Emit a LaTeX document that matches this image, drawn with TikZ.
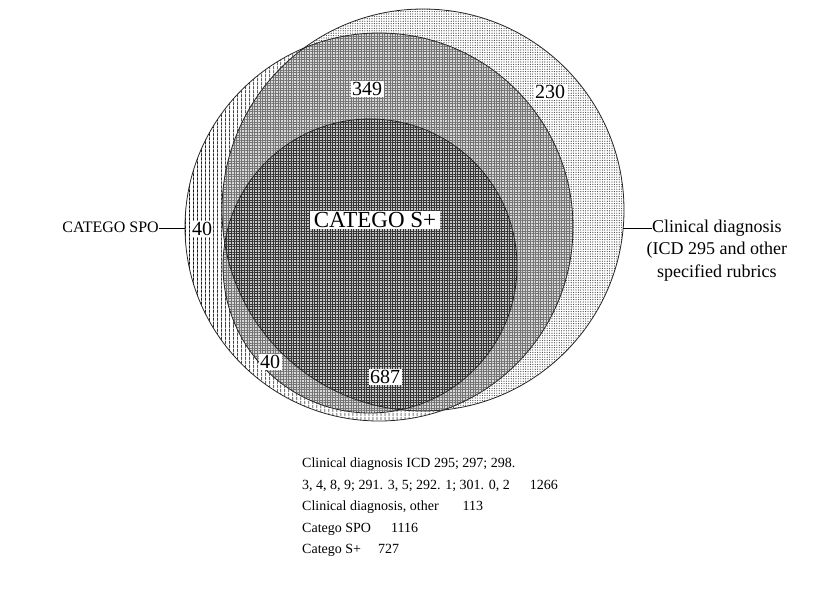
\documentclass[tikz,border=0pt]{standalone}
\usepackage{fontspec}
\setmainfont{Liberation Serif}
\usetikzlibrary{positioning,patterns.meta}
\tikzset{
  numbox/.style={fill=white, inner sep=1.5pt, font=\fontsize{20}{20}\selectfont},
  lbltext/.style={inner sep=0pt, text height=12pt, text depth=3.5pt, font=\fontsize{18}{21.5}\selectfont},
  edgeline/.style={line width=0.8pt, black!85},
  midgrid/.style={pattern={Hatch[angle=0,distance=2.6pt,line width=0.7pt]}, pattern color=black!55},
  darkgrid/.style={pattern={Hatch[angle=0,distance=2.6pt,line width=0.9pt]}, pattern color=black!80}
}
\begin{document}
\begin{tikzpicture}[x=1pt,y=-1pt]
    \useasboundingbox (0,0) rectangle (825,590);
    % Catego SPO (riscas verticais)
    \fill[white] (379,227) circle[radius=194pt];
    \fill[pattern={Lines[angle=90,distance=4pt,line width=0.9pt]}, pattern color=black] (379,227) circle[radius=194pt];
    % Diagnostico clinico (pontos)
    \fill[white] (423,210) circle[radius=201pt];
    \fill[pattern={Dots[radius=0.6pt,distance=2.4pt]}, pattern color=black!75] (423,210) circle[radius=201pt];
    % SPO e clinico
    \begin{scope}
        \clip (423,210) circle[radius=201pt];
        \fill[gray!30] (379,227) circle[radius=194pt];
        \fill[midgrid] (379,227) circle[radius=194pt];
    \end{scope}
    % Catego S+
    \fill[gray!30] (370,266) circle[radius=147pt];
    \fill[midgrid] (370,266) circle[radius=147pt];
    \begin{scope}
        \clip (370,266) circle[radius=147pt];
        \fill[gray!45] (423,210) circle[radius=201pt];
        \fill[darkgrid] (423,210) circle[radius=201pt];
    \end{scope}
    % Contornos
    \draw[edgeline] (379,227) circle[radius=194pt];
    \draw[edgeline] (423,210) circle[radius=201pt];
    \draw[edgeline] (370,266) circle[radius=147pt];
    % Numeros
    \node[numbox] (n230) at (550,92) {230};
    \node[numbox] (n349) at (367,89) {349};
    \node[numbox, font=\fontsize{23}{23}\selectfont, inner xsep=4pt] (splus) at (375,220) {CATEGO S+};
    \node[numbox, inner xsep=1pt] (spoonly) at (202,229) {40};
    \node[numbox] (splusonly) at (270,362) {40};
    \node[numbox] (n687) at (385,377) {687};
    % Legenda SPO
    \coordinate (spoedge) at (185,228);
    \node[lbltext, font=\fontsize{16}{19}\selectfont, anchor=east] (spo) at (159,228) {CATEGO SPO};
    \draw (spo) -- (spoedge);
    % Legenda clinico
    \coordinate (clinedge) at (623,228);
    \node[lbltext, anchor=west] (clin1) at (652,228) {Clinical diagnosis};
    \node[lbltext, below=6.5pt of clin1] (clin2) {(ICD 295 and other};
    \node[lbltext, below=6.5pt of clin2] (clin3) {specified rubrics};
    \draw (clinedge) -- (clin1);
    % Totais
    \node[lbltext, text height=, text depth=, font=\fontsize{14}{21.5}\selectfont, align=left, anchor=north west] (totals) at (302,458) {%
        Clinical diagnosis ICD 295; 297; 298.\\
        3, 4, 8, 9; 291. 3, 5; 292. 1; 301. 0, 2\hspace{20pt}1266\\
        Clinical diagnosis, other\hspace{24pt}113\\
        Catego SPO\hspace{20pt}1116\\
        Catego S+\hspace{17pt}727};
\end{tikzpicture}
\end{document}
